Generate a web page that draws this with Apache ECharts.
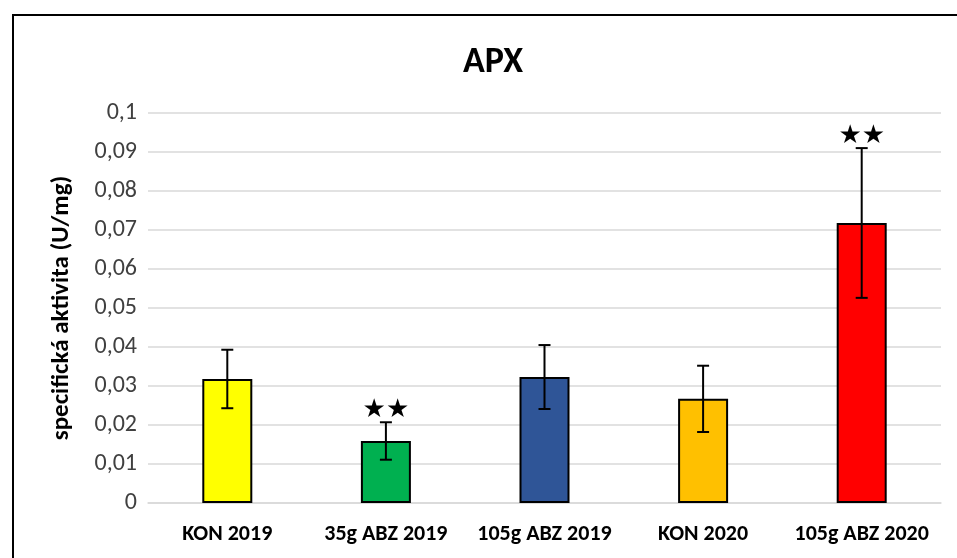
<!DOCTYPE html>
<html lang="cs">
<head>
    <meta charset="utf-8">
    <title>APX</title>
    <script src="https://cdn.jsdelivr.net/npm/echarts@6/dist/echarts.min.js"></script>
    <style>
        html, body { margin: 0; padding: 0; background: #fff; }
        #chart { width: 957px; height: 558px; }
    </style>
</head>
<body>
<div id="chart"></div>
<script>
    var categories = ['KON 2019', '35g ABZ 2019', '105g ABZ 2019', 'KON 2020', '105g ABZ 2020'];
    var values = [0.0318, 0.0159, 0.0323, 0.0267, 0.0718];
    var errors = [0.0075, 0.0048, 0.0082, 0.0085, 0.0192];
    var stars = ['', '★★', '', '', '★★'];
    var colors = ['#FFFF00', '#00B050', '#2F5597', '#FFC000', '#FF0000'];

    var font = 'Carlito, Lato, "Liberation Sans", sans-serif';
    var chart = echarts.init(document.getElementById('chart'));

    var errData = values.map(function (v, i) { return [i, v - errors[i], v + errors[i], stars[i]]; });

    chart.setOption({
        animation: false,
        title: {
            text: 'APX',
            left: 488,
            textAlign: 'center',
            top: 40,
            textStyle: { fontFamily: font, fontSize: 36, fontWeight: 'bold', color: '#000' }
        },
        graphic: [{
            type: 'rect',
            shape: { x: 13, y: 15, width: 960, height: 560 },
            style: { fill: 'none', stroke: '#000', lineWidth: 2 }
        }],
        grid: { left: 148, right: 16, top: 113, bottom: 55 },
        xAxis: {
            type: 'category',
            data: categories,
            axisTick: { show: false },
            axisLine: { lineStyle: { color: '#d9d9d9', width: 1.5 } },
            axisLabel: { interval: 0, hideOverlap: false, fontFamily: font, fontSize: 22, fontWeight: 'bold', color: '#000', margin: 20 }
        },
        yAxis: {
            type: 'value',
            min: 0,
            max: 0.1,
            interval: 0.01,
            name: 'specifická aktivita (U/mg)',
            nameLocation: 'middle',
            nameGap: 74,
            nameTextStyle: { fontFamily: font, fontSize: 25, fontWeight: 'bold', color: '#000' },
            axisLabel: {
                fontFamily: font, fontSize: 24, color: '#404040', margin: 11,
                formatter: function (v) { return v === 0 ? '0' : String(+v.toFixed(2)).replace('.', ','); }
            },
            splitLine: { lineStyle: { color: '#d9d9d9', width: 1.5 } }
        },
        series: [{
            type: 'bar',
            barWidth: 50,
            data: values.map(function (v, i) {
                return { value: v, itemStyle: { color: colors[i], borderColor: '#000', borderWidth: 2 } };
            })
        }, {
            type: 'custom',
            data: errData,
            z: 10,
            renderItem: function (params, api) {
                var lo = api.coord([api.value(0), api.value(1)]);
                var hi = api.coord([api.value(0), api.value(2)]);
                var x = lo[0], w = 6;
                var st = { stroke: '#000', lineWidth: 2 };
                var children = [
                    { type: 'line', shape: { x1: x, y1: lo[1], x2: x, y2: hi[1] }, style: st },
                    { type: 'line', shape: { x1: x - w, y1: lo[1], x2: x + w, y2: lo[1] }, style: st },
                    { type: 'line', shape: { x1: x - w, y1: hi[1], x2: x + w, y2: hi[1] }, style: st }
                ];
                var s = errData[params.dataIndex][3];
                if (s) {
                    children.push({
                        type: 'text',
                        style: { text: s, x: x, y: hi[1] - 12, align: 'center', verticalAlign: 'middle',
                                 fontSize: 26, fill: '#000', fontFamily: '"DejaVu Sans", sans-serif' }
                    });
                }
                return { type: 'group', children: children };
            }
        }]
    });
</script>
</body>
</html>
